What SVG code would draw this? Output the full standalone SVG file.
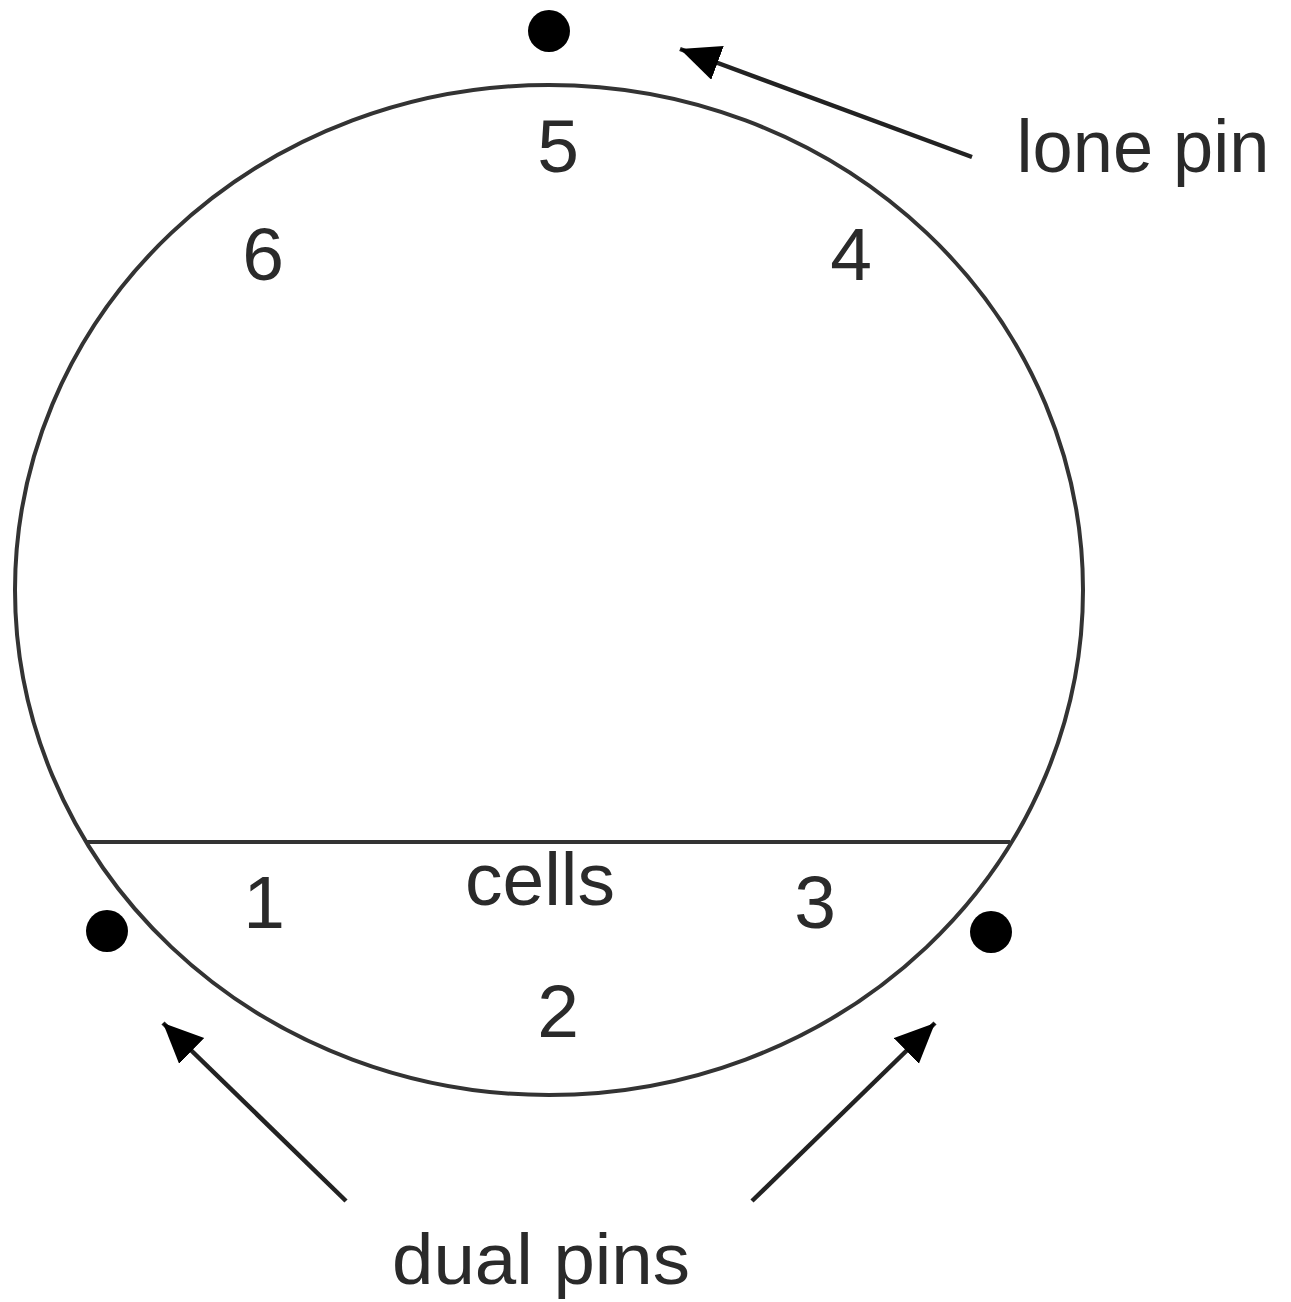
<svg xmlns="http://www.w3.org/2000/svg" width="1291" height="1302" viewBox="0 0 1291 1302">
<style>
.t{font-family:"Liberation Sans",Arial,sans-serif;font-size:75px;fill:#2a2a2a;text-anchor:middle}
.s{fill:none;stroke:#333;stroke-width:4}
.a{fill:none;stroke:#222;stroke-width:4.5}
.dot{fill:#000}
</style>
<defs>
<marker id="ah" markerUnits="userSpaceOnUse" markerWidth="44" markerHeight="40" refX="40" refY="18" orient="auto">
<path d="M0,0 L40,18 L0,36 Z" fill="#000"/>
</marker>
</defs>
<rect width="1291" height="1302" fill="#fff"/>
<g id="cell-body">
<ellipse class="s" cx="549" cy="590" rx="534" ry="505"/>
<line class="s" x1="87" y1="842" x2="1010" y2="842"/>
</g>
<g id="labels">
<text class="t" x="558" y="172">5</text>
<text class="t" x="263" y="280">6</text>
<text class="t" x="851" y="280">4</text>
<text class="t" x="264" y="928">1</text>
<text class="t" x="540" y="905">cells</text>
<text class="t" x="815" y="928">3</text>
<text class="t" x="558" y="1037">2</text>
</g>
<g id="pin-top"><circle class="dot" cx="549" cy="31" r="21"/></g>
<g id="pin-left"><circle class="dot" cx="107" cy="931" r="21"/></g>
<g id="pin-right"><circle class="dot" cx="991" cy="932" r="21"/></g>
<g id="connectors">
<line class="a" x1="972" y1="157" x2="680" y2="49" marker-end="url(#ah)"/>
<line class="a" x1="346" y1="1201" x2="163" y2="1023" marker-end="url(#ah)"/>
<line class="a" x1="752" y1="1201" x2="935" y2="1023" marker-end="url(#ah)"/>
</g>
<g id="captions">
<text class="t" x="1143" y="172" textLength="253" lengthAdjust="spacingAndGlyphs">lone pin</text>
<text class="t" x="541" y="1284" style="font-size:72px" textLength="298" lengthAdjust="spacingAndGlyphs">dual pins</text>
</g>
</svg>
